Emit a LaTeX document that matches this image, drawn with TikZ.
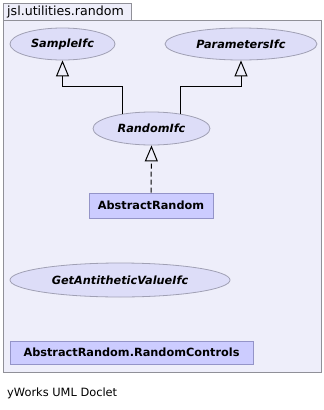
\documentclass[tikz,border=0pt]{standalone}
\usepackage{fontspec}
\setmainfont{DejaVu Sans}
\usepackage{tikz}
\usetikzlibrary{arrows.meta, positioning, shapes.geometric, calc}

\definecolor{pkgfill}{HTML}{EEEEFA}
\definecolor{pkgline}{HTML}{909098}
\definecolor{ifcfill}{HTML}{DDDDF8}
\definecolor{ifcline}{HTML}{A0A0B4}
\definecolor{clsfill}{HTML}{CCCCFF}
\definecolor{clsline}{HTML}{9494C8}

\tikzset{
  iface/.style={ellipse, draw=ifcline, fill=ifcfill, line width=0.8pt, inner sep=0pt,
    font=\fontsize{11.3}{13}\selectfont\bfseries\itshape},
  cls/.style={rectangle, draw=clsline, fill=clsfill, line width=0.8pt, inner sep=0pt,
    font=\fontsize{11.3}{13}\selectfont\bfseries},
  gen/.style={line width=1pt, black, -{Triangle[open, length=16pt, width=13pt]}},
  real/.style={gen, dash pattern=on 5pt off 3pt}
}

\begin{document}
\begin{tikzpicture}[x=1pt, y=-1pt]
\useasboundingbox[fill=white] (0,0) rectangle (324,410);

% Package frame with its tab
\draw[pkgline, fill=pkgfill, line width=0.8pt] (3,3) rectangle (131,20);
\draw[pkgline, fill=pkgfill, line width=0.8pt] (3,20) rectangle (321,372);
\node[anchor=west, inner sep=0pt, font=\fontsize{12.6}{14}\selectfont] (pkgname) at (7,12) {jsl.utilities.random};

% Interfaces
\node[iface, minimum width=105pt, minimum height=32pt] (sample) at (62.5,44) {SampleIfc};
\node[iface, minimum width=152pt, minimum height=32pt] (params) at (241,44) {ParametersIfc};
\node[iface, minimum width=117pt, minimum height=33pt] (rnd) at (151.5,128.5) {RandomIfc};
\node[iface, minimum width=220pt, minimum height=34pt] (anti) at (120,280) {GetAntitheticValueIfc};

% Classes
\node[cls, minimum width=124pt, minimum height=25pt] (abstract) at (151,205.5) {AbstractRandom};
\node[cls, minimum width=243pt, minimum height=23pt] (controls) at (131.5,352.5) {AbstractRandom.RandomControls};

% Inheritance
\draw[gen] ($(rnd.center)+(-29.5,-14.3)$) |- ($(sample.south)+(0,26)$) -- (sample.south);
\draw[gen] ($(rnd.center)+(28.5,-14.5)$) |- ($(params.south)+(0,26)$) -- (params.south);
\draw[real] (abstract.north) -- (rnd.south);

% Footer
\node[anchor=west, inner sep=0pt, font=\fontsize{11.4}{13}\selectfont] (doclet) at (7,393) {yWorks UML Doclet};
\end{tikzpicture}
\end{document}
